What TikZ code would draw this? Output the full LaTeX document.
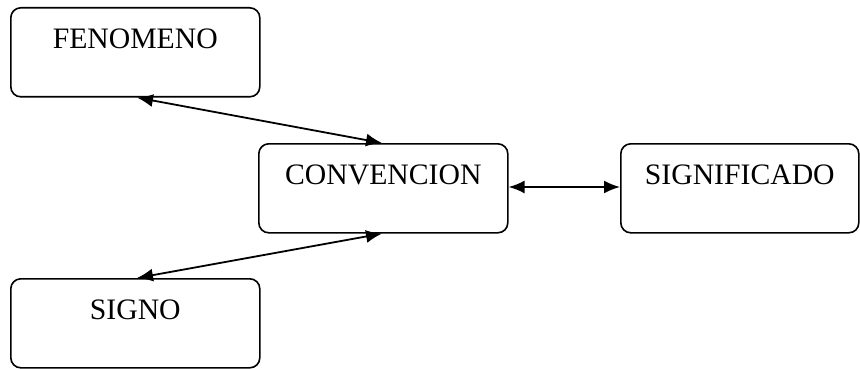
\documentclass[tikz,border=0pt]{standalone}
\usepackage{fontspec}
\setmainfont{Liberation Serif}
\usetikzlibrary{arrows.meta}
\begin{document}
\begin{tikzpicture}[x=1pt,y=-1pt,
  box/.style={draw, line width=1.6pt, rounded corners=10pt, anchor=north west,
    inner xsep=0pt, inner ysep=0pt, text height=41pt, text depth=48pt,
    font=\fontsize{29.7}{34}\selectfont},
  link/.style={line width=1.8pt, {Latex[length=16pt,width=13pt]}-{Latex[length=16pt,width=13pt]}}]
  \useasboundingbox (0,0) rectangle (860,369);
  % the four boxes
  \node[box, minimum width=249pt] (fen) at (10,7) {FENOMENO};
  \node[box, minimum width=249pt] (conv) at (258,143) {CONVENCION};
  \node[box, minimum width=238pt] (sig) at (620,143) {SIGNIFICADO};
  \node[box, minimum width=249pt] (signo) at (10,278) {SIGNO};
  % connectors
  \draw[link] ([xshift=127pt]fen.south west) -- ([xshift=124pt]conv.north west);
  \draw[link] ([xshift=127pt]signo.north west) -- ([xshift=124pt]conv.south west);
  \draw[link] ([yshift=-44pt]conv.north east) -- ([yshift=-44pt]sig.north west);
\end{tikzpicture}
\end{document}
